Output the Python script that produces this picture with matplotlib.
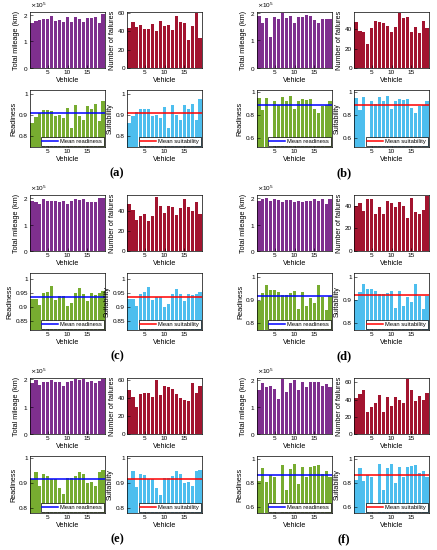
import matplotlib.pyplot as plt
from matplotlib.ticker import FixedLocator, FuncFormatter, MultipleLocator, ScalarFormatter

plt.rcParams['font.family'] = ['Liberation Sans', 'DejaVu Sans']

W, H = 437, 550

vehicles = list(range(1, 20))

# (a)
mileage_a = [169000, 178000, 181000, 184000, 183000, 195000, 175000, 180000, 173000, 191000,
             171000, 191000, 182000, 171000, 186000, 186000, 190000, 170000, 201000]
failures_a = [44, 50, 45, 47, 42.5, 42, 48, 40, 51, 46, 47, 41, 57, 50, 49, 31, 46, 60, 33]
readiness_a = [0.864, 0.892, 0.911, 0.924, 0.924, 0.922, 0.894, 0.900, 0.887, 0.936,
               0.838, 0.947, 0.897, 0.876, 0.945, 0.927, 0.951, 0.875, 0.969]
suitability_a = [0.865, 0.895, 0.915, 0.928, 0.928, 0.928, 0.898, 0.900, 0.888, 0.940,
                 0.838, 0.950, 0.900, 0.877, 0.948, 0.927, 0.955, 0.877, 0.975]
mean_readiness_a = 0.909
mean_suitability_a = 0.912

# (b)
mileage_b = [189000, 163000, 181000, 113000, 184000, 176000, 197000, 180000, 186000, 162000,
             184000, 184000, 192000, 189000, 174000, 161000, 176000, 175000, 176000]
failures_b = [46.8, 38, 37, 25, 40.7, 48.5, 47, 46, 43.4, 37, 42.4, 56, 51.5, 52.5, 36.6,
              42.4, 35.6, 48.5, 40.7]
readiness_b = [0.945, 0.843, 0.950, 0.45, 0.920, 0.890, 0.953, 0.920, 0.963, 0.850,
               0.920, 0.935, 0.925, 0.935, 0.855, 0.818, 0.875, 0.888, 0.920]
suitability_b = [0.947, 0.845, 0.952, 0.45, 0.922, 0.892, 0.955, 0.922, 0.965, 0.852,
                 0.922, 0.937, 0.927, 0.937, 0.857, 0.820, 0.877, 0.890, 0.922]
mean_readiness_b = 0.882
mean_suitability_b = 0.884

# (c)
mileage_c = [190000, 185000, 179000, 196000, 190000, 191000, 188000, 184000, 191000, 179000,
             189000, 196000, 194000, 196000, 187000, 187000, 184000, 202000, 199000]
failures_c = [47, 41, 31, 35, 37, 30, 35, 54, 45, 38, 45, 44, 36, 43, 52, 44, 40, 49, 37]
readiness_c = [0.929, 0.929, 0.906, 0.949, 0.955, 0.973, 0.926, 0.938, 0.938, 0.903,
               0.915, 0.949, 0.967, 0.947, 0.923, 0.950, 0.944, 0.949, 0.956]
suitability_c = [0.928, 0.928, 0.903, 0.948, 0.953, 0.972, 0.925, 0.935, 0.935, 0.900,
                 0.910, 0.948, 0.965, 0.945, 0.920, 0.948, 0.943, 0.945, 0.955]
mean_readiness_c = 0.935
mean_suitability_c = 0.937

# (d)
mileage_d = [188000, 196000, 202000, 190000, 198000, 194000, 184000, 194000, 194000, 184000,
             190000, 185000, 191000, 188000, 198000, 191000, 196000, 179000, 198000]
failures_d = [40, 42.3, 35, 46, 46, 33, 39, 33, 44.3, 42.3, 38.6, 43.7, 39.4, 29, 47,
              34.6, 32.3, 36, 48.6]
readiness_d = [0.897, 0.933, 0.967, 0.946, 0.946, 0.936, 0.921, 0.921, 0.929, 0.939,
               0.861, 0.936, 0.874, 0.911, 0.889, 0.967, 0.914, 0.857, 0.917]
suitability_d = [0.900, 0.935, 0.968, 0.948, 0.948, 0.938, 0.925, 0.925, 0.930, 0.940,
                 0.865, 0.938, 0.877, 0.915, 0.893, 0.968, 0.917, 0.862, 0.920]
mean_readiness_d = 0.918
mean_suitability_d = 0.921

# (e)
mileage_e = [185000, 198000, 179000, 191000, 189000, 198000, 189000, 189000, 177000, 191000,
             195000, 200000, 198000, 201000, 191000, 194000, 188000, 195000, 200000]
failures_e = [49, 41, 30, 45, 46, 46, 41, 60, 43, 54, 53, 50, 45, 40, 38, 37, 57, 46, 54]
readiness_e = [0.915, 0.945, 0.886, 0.935, 0.930, 0.915, 0.915, 0.880, 0.856, 0.922,
               0.922, 0.928, 0.945, 0.935, 0.900, 0.905, 0.889, 0.945, 0.955]
suitability_e = [0.915, 0.950, 0.885, 0.937, 0.932, 0.915, 0.915, 0.878, 0.850, 0.922,
                 0.922, 0.928, 0.948, 0.938, 0.900, 0.905, 0.888, 0.948, 0.955]
mean_readiness_e = 0.915
mean_suitability_e = 0.917

# (f)
mileage_f = [163000, 190000, 173000, 179000, 166000, 128000, 204000, 154000, 188000, 200000,
             163000, 194000, 175000, 191000, 191000, 191000, 179000, 185000, 173000]
failures_f = [42, 46, 50.5, 26, 31, 36, 45, 26, 42.5, 33, 42.5, 39, 36, 63.5, 51.5, 38, 44, 39, 47.5]
readiness_f = [0.821, 0.925, 0.813, 0.867, 0.853, 0.50, 0.955, 0.739, 0.920, 0.960,
               0.795, 0.933, 0.848, 0.933, 0.944, 0.955, 0.880, 0.899, 0.848]
suitability_f = [0.825, 0.928, 0.815, 0.870, 0.855, 0.50, 0.958, 0.740, 0.925, 0.962,
                 0.800, 0.935, 0.850, 0.937, 0.945, 0.955, 0.885, 0.905, 0.850]
mean_readiness_f = 0.868
mean_suitability_f = 0.872

panels = [
    ('(a)', mileage_a, failures_a, readiness_a, suitability_a, mean_readiness_a, mean_suitability_a),
    ('(b)', mileage_b, failures_b, readiness_b, suitability_b, mean_readiness_b, mean_suitability_b),
    ('(c)', mileage_c, failures_c, readiness_c, suitability_c, mean_readiness_c, mean_suitability_c),
    ('(d)', mileage_d, failures_d, readiness_d, suitability_d, mean_readiness_d, mean_suitability_d),
    ('(e)', mileage_e, failures_e, readiness_e, suitability_e, mean_readiness_e, mean_suitability_e),
    ('(f)', mileage_f, failures_f, readiness_f, suitability_f, mean_readiness_f, mean_suitability_f),
]

# axis limits / tick steps per panel
mileage_top = [2.1e5, 2.02e5, 2.12e5, 2.12e5, 2.05e5, 2.07e5]
failures_top = [61, 57.5, 55.5, 49.5, 62.5, 65]
ratio_lims = [(0.75, 1.019), (0.525, 1.015), (0.82, 1.02), (0.772, 1.017), (0.778, 1.01), (0.55, 1.027)]
ratio_steps = [0.1, 0.2, 0.05, 0.1, 0.1, 0.2]

PURPLE = '#7E2F8E'
CRIMSON = '#A2142F'
GREEN = '#77AC30'
SKY = '#4DBEEE'
BAR_W = 0.8

fig = plt.figure(figsize=(W / 100, H / 100), dpi=100)


def px_axes(x, y, w, h):
    return fig.add_axes([x / W, 1 - (y + h) / H, w / W, h / H])


def style(ax, ylabel):
    ax.set_xlim(0.5, 19.5)
    ax.xaxis.set_major_locator(FixedLocator([5, 10, 15]))
    ax.tick_params(direction='in', length=2, width=0.4, labelsize=4.6, pad=1.5)
    for sp in ax.spines.values():
        sp.set_linewidth(0.5)
    ax.set_xlabel('Vehicle', fontsize=5.2, labelpad=1.5)
    ax.set_ylabel(ylabel, fontsize=5.2, labelpad=1.5)


def add_legend(ax):
    ax.legend(loc='lower right', fontsize=4.2, handlelength=2.6, handletextpad=0.4,
              borderpad=0.3, borderaxespad=0.25, fancybox=False, framealpha=1,
              edgecolor='black').get_frame().set_linewidth(0.5)


fmt_g = FuncFormatter(lambda v, p: '{:g}'.format(round(v, 3)))

for i, (tag, mileage, failures, readiness, suitability, m_r, m_s) in enumerate(panels):
    col, row = i % 2, i // 2
    ox = 227 * col
    oy = 183 * row
    xl, xr = ox + 30, ox + 127
    aw = 75

    ax = px_axes(xl, oy + 12, aw, 56)
    ax.bar(vehicles, mileage, width=BAR_W, color=PURPLE)
    ax.set_ylim(0, mileage_top[i])
    ax.yaxis.set_major_locator(MultipleLocator(1e5))
    sf = ScalarFormatter(useMathText=True)
    sf.set_powerlimits((0, 0))
    ax.yaxis.set_major_formatter(sf)
    ax.yaxis.get_offset_text().set_fontsize(4.6)
    style(ax, 'Total mileage (km)')

    ax = px_axes(xr, oy + 12, aw, 56)
    ax.bar(vehicles, failures, width=BAR_W, color=CRIMSON)
    ax.set_ylim(0, failures_top[i])
    ax.yaxis.set_major_locator(MultipleLocator(20))
    style(ax, 'Number of failures')

    lo, hi = ratio_lims[i]
    ax = px_axes(xl, oy + 90, aw, 57)
    ax.bar(vehicles, readiness, width=BAR_W, color=GREEN)
    ax.axhline(m_r, color='blue', lw=1.1, label='Mean readiness')
    ax.set_ylim(lo, hi)
    ax.yaxis.set_major_locator(MultipleLocator(ratio_steps[i]))
    ax.yaxis.set_major_formatter(fmt_g)
    style(ax, 'Readiness')
    add_legend(ax)

    ax = px_axes(xr, oy + 90, aw, 57)
    ax.bar(vehicles, suitability, width=BAR_W, color=SKY)
    ax.axhline(m_s, color='red', lw=1.1, label='Mean suitability')
    ax.set_ylim(lo, hi)
    ax.yaxis.set_major_locator(MultipleLocator(ratio_steps[i]))
    ax.yaxis.set_major_formatter(fmt_g)
    style(ax, 'Suitability')
    add_legend(ax)

    fig.text((ox + 117) / W, 1 - (oy + 173) / H, tag, ha='center', va='center',
             family='Liberation Serif', fontweight='bold', fontsize=9)

fig.savefig('out.png', dpi=100)
